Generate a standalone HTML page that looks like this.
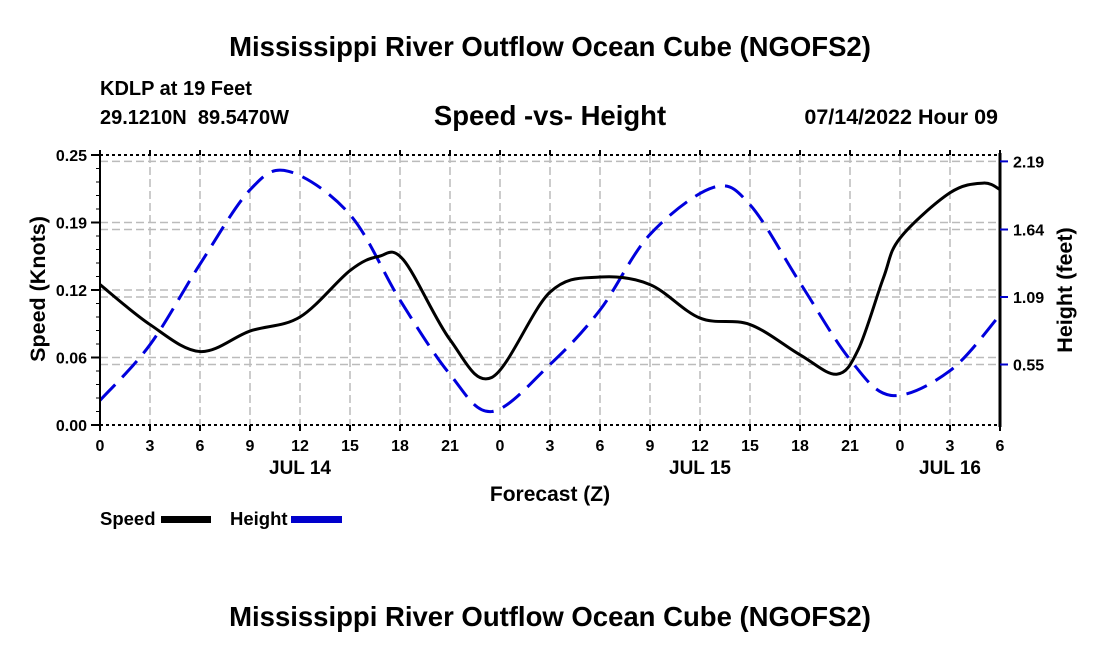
<!DOCTYPE html>
<html><head><meta charset="utf-8"><style>
body{margin:0;background:#fff}
svg text{font-family:"Liberation Sans",Arial,sans-serif;font-weight:bold;fill:#000;white-space:pre}
</style></head><body>
<svg id="chart" width="1100" height="650" viewBox="0 0 1100 650">
<text x="550" y="56" font-size="27.5" text-anchor="middle">Mississippi River Outflow Ocean Cube (NGOFS2)</text>
<text x="100" y="95" font-size="20">KDLP at 19 Feet</text>
<text x="100" y="124" font-size="20">29.1210N  89.5470W</text>
<text x="550" y="125" font-size="27.5" text-anchor="middle">Speed -vs- Height</text>
<text x="998" y="124" font-size="21.5" text-anchor="end">07/14/2022 Hour 09</text>
<text x="550" y="626" font-size="27.5" text-anchor="middle">Mississippi River Outflow Ocean Cube (NGOFS2)</text>
<g id="grid"></g>
<g id="marks"></g>
<g id="axes"></g>
<text x="550" y="501" font-size="21" text-anchor="middle">Forecast (Z)</text>
<text transform="translate(45,289) rotate(-90)" font-size="21.5" text-anchor="middle">Speed (Knots)</text>
<text transform="translate(1072,290) rotate(-90)" font-size="21.5" text-anchor="middle">Height (feet)</text>
<g>
<text x="100" y="525" font-size="18.5">Speed</text>
<rect x="161" y="516" width="50" height="7" fill="#000"/>
<text x="230" y="525" font-size="18.5">Height</text>
<rect x="291" y="516" width="51" height="7" fill="#0000cc"/>
</g>
</svg>
<script>
const hours=[0,3,6,9,12,15,16.7,18.2,21,23.5,27,30,33,36,39,42,44.2,45.5,47,48,51,53,54];
const speed=[0.130,0.093,0.068,0.087,0.100,0.143,0.156,0.153,0.079,0.044,0.123,0.137,0.130,0.099,0.093,0.065,0.047,0.070,0.136,0.173,0.215,0.224,0.218];
const hHours=[0,3,6,9,11.3,15,18,21,23.5,27,30,33,36.8,39,42,45,47.5,51,54];
const height=[0.26,0.71,1.36,1.96,2.11,1.76,1.07,0.47,0.17,0.55,0.99,1.60,1.98,1.84,1.21,0.59,0.30,0.50,0.95];
const xTickLabels=["0","3","6","9","12","15","18","21","0","3","6","9","12","15","18","21","0","3","6"];
const dayLabels=["JUL 14","JUL 15","JUL 16"];
const dayHours=[12,36,51];
const leftTicks=[0,0.0625,0.125,0.1875,0.25];
const leftLabels=["0.00","0.06","0.12","0.19","0.25"];
const rightTicks=[0.55,1.095,1.64,2.19];
const rightLabels=["0.55","1.09","1.64","2.19"];
const X0=100,X1=1000,Y0=425,Y1=155;
const xs=h=>X0+h*(X1-X0)/54;
const ys=v=>Y0-v*(Y0-Y1)/0.25;
const yh=v=>364.5-(v-0.55)*(67.5/0.545);
const NS="http://www.w3.org/2000/svg";
function mk(t,a,p){const e=document.createElementNS(NS,t);for(const k in a)e.setAttribute(k,a[k]);p.appendChild(e);return e;}
const grid=document.getElementById('grid'),axes=document.getElementById('axes'),marks=document.getElementById('marks');
const gs={stroke:"#bbb","stroke-width":1.5,"stroke-dasharray":"8,4"};
for(let i=1;i<18;i++){const l=mk('line',Object.assign({x1:xs(i*3),x2:xs(i*3),y1:Y1,y2:Y0},gs),grid);

}
leftTicks.forEach(v=>{if(v>0&&v<0.25){const l=mk('line',Object.assign({x1:X0,x2:X1,y1:ys(v),y2:ys(v)},gs),grid);

}});
rightTicks.forEach(v=>{const l=mk('line',Object.assign({x1:X0,x2:X1,y1:yh(v),y2:yh(v)},gs),grid);

});
mk('line',{x1:X0,x2:X1,y1:Y1,y2:Y1,stroke:"#000","stroke-width":2,"stroke-dasharray":"3,3"},axes);
mk('line',{x1:X0,x2:X1,y1:Y0,y2:Y0,stroke:"#000","stroke-width":2,"stroke-dasharray":"3,3"},axes);
mk('line',{x1:X0,x2:X0,y1:Y1,y2:Y0,stroke:"#000","stroke-width":2},axes);
mk('line',{x1:X1,x2:X1,y1:Y1-2,y2:Y0+2,stroke:"#000","stroke-width":3},axes);
xTickLabels.forEach((s,i)=>{const x=xs(i*3);
mk('line',{x1:x,x2:x,y1:Y0,y2:Y0+6,stroke:"#000","stroke-width":2},axes);
mk('line',{x1:x,x2:x,y1:Y1,y2:Y1-5,stroke:"#000","stroke-width":2},axes);
const t=mk('text',{x:x,y:451,"font-size":16,"text-anchor":"middle"},axes);t.textContent=s;

});
dayLabels.forEach((s,i)=>{const t=mk('text',{x:xs(dayHours[i]),y:474,"font-size":19,"text-anchor":"middle"},axes);t.textContent=s;

});
for(let v=0;v<=0.25001;v+=0.25/20){mk('line',{x1:X0-4,x2:X0,y1:ys(v),y2:ys(v),stroke:"#000","stroke-width":1},axes);}
leftTicks.forEach((v,i)=>{mk('line',{x1:X0-9,x2:X0,y1:ys(v),y2:ys(v),stroke:"#000","stroke-width":2},axes);
const t=mk('text',{x:X0-13,y:ys(v)+6,"font-size":16,"text-anchor":"end"},axes);t.textContent=leftLabels[i];

});
rightTicks.forEach((v,i)=>{mk('line',{x1:X1,x2:X1+8,y1:yh(v),y2:yh(v),stroke:"#0000cc","stroke-width":2},axes);
const t=mk('text',{x:X1+13,y:yh(v)+6,"font-size":16},axes);t.textContent=rightLabels[i];

});
function path(px,py){let d=`M${px[0]},${py[0]}`;const n=px.length;
for(let i=0;i<n-1;i++){const p0=i?i-1:0,p3=i+2<n?i+2:n-1;
const c1x=px[i]+(px[i+1]-px[p0])/6,c1y=py[i]+(py[i+1]-py[p0])/6;
const c2x=px[i+1]-(px[p3]-px[i])/6,c2y=py[i+1]-(py[p3]-py[i])/6;
d+=` C${c1x},${c1y} ${c2x},${c2y} ${px[i+1]},${py[i+1]}`;}return d;}
const hp=mk('path',{d:path(hHours.map(xs),height.map(yh)),fill:"none",stroke:"#0000dd","stroke-width":3,"stroke-dasharray":"22,10"},marks);


const sp=mk('path',{d:path(hours.map(xs),speed.map(ys)),fill:"none",stroke:"#000","stroke-width":3},marks);


</script>
</body></html>
